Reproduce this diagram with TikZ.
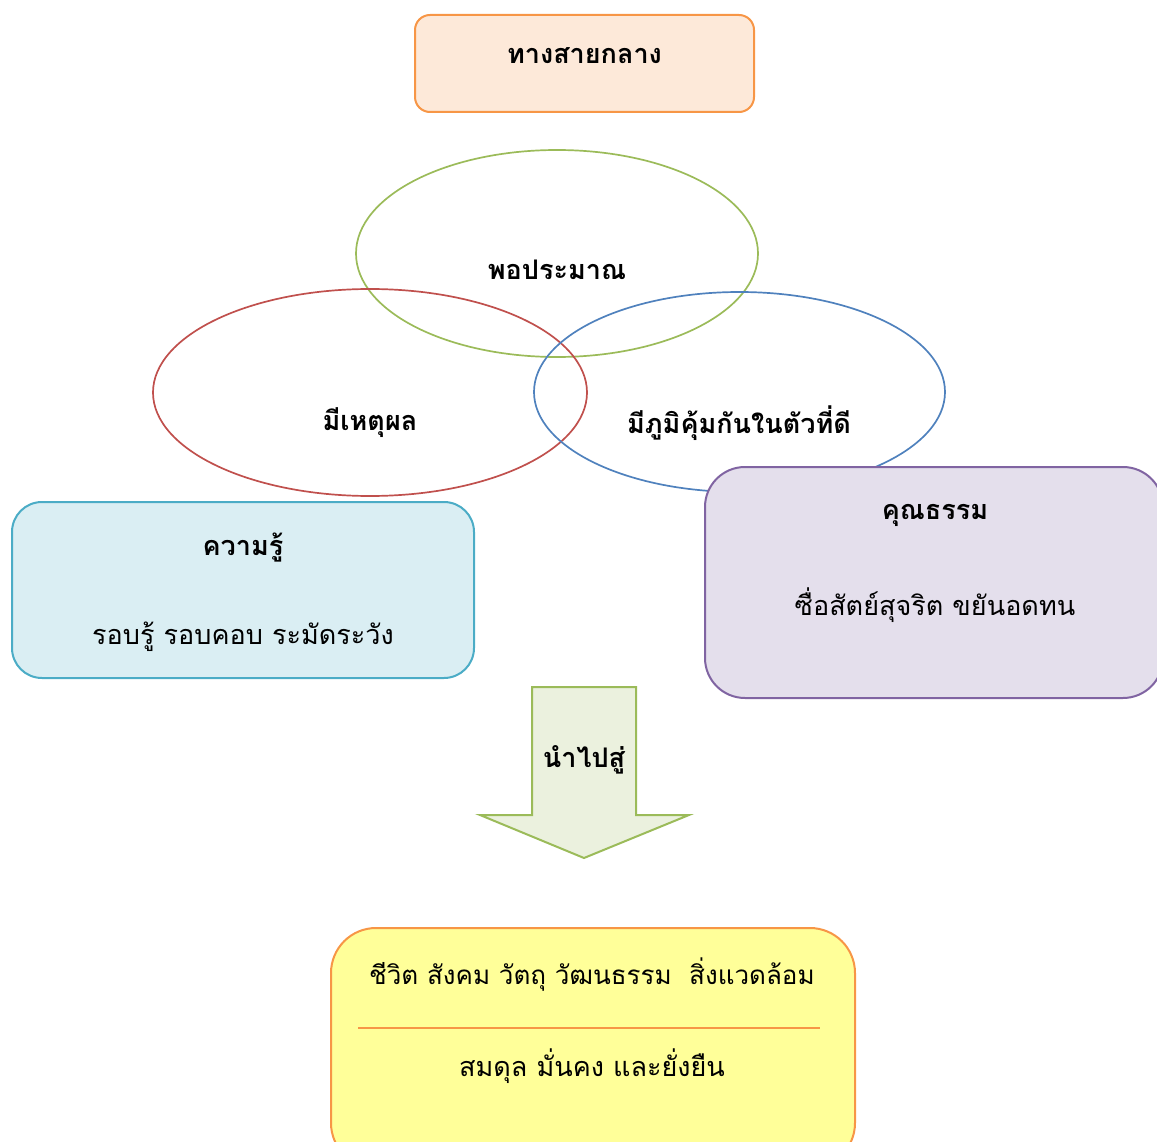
\documentclass[tikz,border=0pt]{standalone}
\usepackage{fontspec}
\newfontfamily\thai[Script=Thai]{Loma}
\usetikzlibrary{shapes.geometric}
\definecolor{orB}{HTML}{F79646}
\definecolor{orF}{HTML}{FDE9D9}
\definecolor{grB}{HTML}{9BBB59}
\definecolor{grF}{HTML}{EBF1DE}
\definecolor{rdB}{HTML}{C0504D}
\definecolor{blB}{HTML}{4F81BD}
\definecolor{cyB}{HTML}{4BACC6}
\definecolor{cyF}{HTML}{DAEEF3}
\definecolor{puB}{HTML}{8064A2}
\definecolor{puF}{HTML}{E4DFEC}
\definecolor{yeF}{HTML}{FFFF99}
\tikzset{
  box/.style={rectangle, line width=2pt, inner sep=0pt},
  ring/.style={ellipse, draw, line width=1.7pt, inner sep=0pt},
  ttl/.style={font=\thai\bfseries\fontsize{27}{32}\selectfont, inner sep=0pt},
  txt/.style={font=\thai\fontsize{27}{32}\selectfont, inner sep=0pt},
}
\begin{document}
\begin{tikzpicture}[x=1pt,y=-1pt]
\useasboundingbox (0,0) rectangle (1157,1142);
\clip (0,0) rectangle (1157,1142);
% top box
\node[box, draw=orB, fill=orF, rounded corners=15pt, minimum width=339pt, minimum height=97pt] (top) at (584.5,63.5) {};
\node[ttl] (topt) at (584.5,56) {ทางสายกลาง};
% ellipses
\node[ring, draw=grB, minimum width=402pt, minimum height=207pt] (eg) at (557,253.5) {};
\node[ring, draw=rdB, minimum width=434pt, minimum height=207pt] (er) at (370,392.5) {};
\node[ring, draw=blB, minimum width=411pt, minimum height=200pt] (eb) at (739.5,392) {};
\node[ttl] (egt) at (557,270) {พอประมาณ};
\node[ttl] (ert) at (370,423) {มีเหตุผล};
\node[ttl] (ebt) at (739,423) {มีภูมิคุ้มกันในตัวที่ดี};
% knowledge box
\node[box, draw=cyB, fill=cyF, rounded corners=30pt, minimum width=462pt, minimum height=176pt] (kb) at (243,590) {};
\node[ttl] (kbt) at (243,548) {ความรู้};
\node[txt] (kbs) at (243,637) {รอบรู้ รอบคอบ ระมัดระวัง};
% virtue box
\node[box, draw=puB, fill=puF, rounded corners=40pt, minimum width=458pt, minimum height=231pt] (vb) at (934,582.5) {};
\node[ttl] (vbt) at (935,515) {คุณธรรม};
\node[txt] (vbs) at (935,605) {ซื่อสัตย์สุจริต ขยันอดทน};
% arrow
\coordinate (atip) at (584,858);
\draw[line width=2pt, draw=grB, fill=grF, line join=miter]
  (532,687) -- (636,687) -- (636,815) -- (689,815) -- (atip) -- (480,815) -- (532,815) -- cycle;
\node[ttl] (at) at (584,760) {นำไปสู่};
% bottom box
\node[box, draw=orB, fill=yeF, rounded corners=45pt, minimum width=524pt, minimum height=240pt] (bb) at (593,1048) {};
\coordinate (l1) at (358,1028);
\coordinate (l2) at (820,1028);
\draw[line width=1.7pt, draw=orB] (l1) -- (l2);
\node[txt, font=\thai\fontsize{26}{31}\selectfont] (bbt) at (592,975) {ชีวิต สังคม วัตถุ วัฒนธรรม \ สิ่งแวดล้อม};
\node[txt] (bbs) at (592,1066) {สมดุล มั่นคง และยั่งยืน};
\end{tikzpicture}
\end{document}
